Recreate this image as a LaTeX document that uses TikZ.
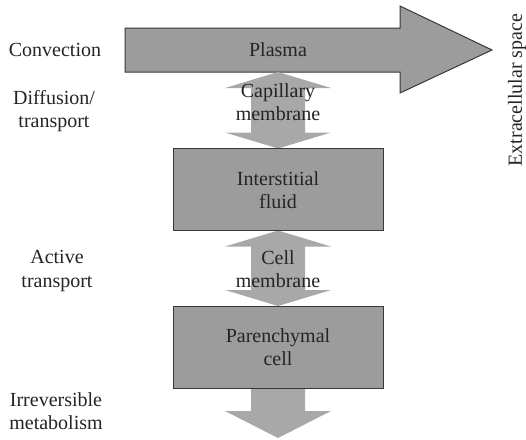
\documentclass[tikz,border=0pt]{standalone}
\usepackage{fontspec}
\setmainfont{Liberation Serif}
\usetikzlibrary{calc}

\definecolor{boxgray}{gray}{0.61}
\definecolor{flowgray}{gray}{0.66}
\definecolor{edgegray}{gray}{0.22}
\definecolor{inkgray}{gray}{0.14}

\tikzset{
  compartment/.style={draw=edgegray, line width=1pt, fill=boxgray,
    minimum width=209pt, minimum height=81pt, inner sep=0pt, align=center},
  flow/.style={fill=flowgray},
  caption/.style={align=center, text=inkgray},
}

% double headed exchange arrow between two points
\newcommand\twoway[2]{%
  \fill[flow] (#1) -- ($(#1)+(53,16)$) -- ($(#1)+(27,16)$) -- ($(#2)+(27,-16)$)
    -- ($(#2)+(53,-16)$) -- (#2) -- ($(#2)+(-53,-16)$) -- ($(#2)+(-27,-16)$)
    -- ($(#1)+(-27,16)$) -- ($(#1)+(-53,16)$) -- cycle;}

\begin{document}
\begin{tikzpicture}[x=1pt, y=-1pt, font=\fontsize{20}{23.5}\selectfont, text=inkgray]
        \useasboundingbox (0,0) rectangle (526,439);
        % Plasma arrow
        \draw[draw=edgegray, line width=1pt, fill=boxgray]
          (125,28) -- (400,28) -- (400,6) -- (492,50) -- (400,93) -- (400,72) -- (125,72) -- cycle;
        \coordinate (plasma bottom) at (278,72);
        % Compartments
        \node[compartment] (inter) at (278,189.5) {};
        \node[compartment] (paren) at (278,347) {};
        % Exchange arrows
        \twoway{plasma bottom}{inter.north}
        \twoway{inter.south}{paren.north}
        \coordinate (sink) at (278,438);
        \fill[flow] ($(paren.south)+(-27,0)$) -- ($(paren.south)+(-27,23)$) -- ($(sink)+(-53,-27)$)
          -- (sink) -- ($(sink)+(53,-27)$) -- ($(paren.south)+(27,23)$) -- ($(paren.south)+(27,0)$) -- cycle;
        \draw[draw=edgegray, line width=1pt, fill=boxgray] (inter.north west) rectangle (inter.south east);
        \draw[draw=edgegray, line width=1pt, fill=boxgray] (paren.north west) rectangle (paren.south east);
        % Texts on the shapes
        \node[caption] (plasma) at (278,50) {Plasma};
        \node[caption] (capillary) at (278,102) {Capillary\\membrane};
        \node[caption] (fluid) at (278,190) {Interstitial\\fluid};
        \node[caption] (cellmem) at (278,269) {Cell\\membrane};
        \node[caption] (cell) at (278,347) {Parenchymal\\cell};
        % Processes on the left
        \node[caption] (convection) at (55,50) {Convection};
        \node[caption] (diffusion) at (54,111) {Diffusion/\\transport};
        \node[caption] (active) at (57,271) {Active\\transport};
        \node[caption] (metabolism) at (56,411) {Irreversible\\metabolism};
        \node[caption, rotate=90] (extra) at (517,90) {Extracellular space};
      \end{tikzpicture}
\end{document}
